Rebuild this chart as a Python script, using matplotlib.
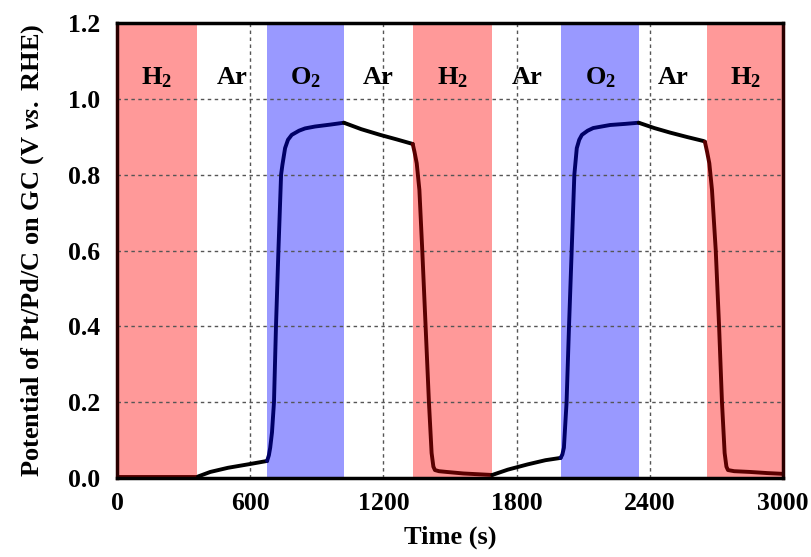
import matplotlib
matplotlib.use("Agg")
import matplotlib.pyplot as plt

plt.rcParams['font.family'] = ['Liberation Serif', 'DejaVu Serif']
plt.rcParams['font.weight'] = 'bold'
plt.rcParams['mathtext.fontset'] = 'custom'
plt.rcParams['mathtext.rm'] = 'Liberation Serif:bold'
plt.rcParams['mathtext.bf'] = 'Liberation Serif:bold'
plt.rcParams['mathtext.it'] = 'Liberation Serif:italic:bold'

# gas periods (s)
gas_names = ["H$_2$", "Ar", "O$_2$", "Ar", "H$_2$", "Ar", "O$_2$", "Ar", "H$_2$"]
gas_starts = [0, 360, 677, 1022, 1334, 1690, 2002, 2350, 2658]
gas_ends = [360, 677, 1022, 1334, 1690, 2002, 2350, 2658, 3000]
gas_colors = {"H$_2$": "#ff9999", "O$_2$": "#9999ff", "Ar": "#ffffff"}

# potential trace, segment by segment
h2_a_t = [0, 100, 200, 300, 365]
h2_a_v = [0.004, 0.004, 0.004, 0.004, 0.004]
ar_a_t = [365, 420, 500, 600, 676]
ar_a_v = [0.004, 0.016, 0.027, 0.037, 0.045]
o2_a_t = [676, 684, 690, 698, 707, 716, 727, 739, 745, 757, 770, 787, 820, 847, 892, 960, 1022]
o2_a_v = [0.045, 0.06, 0.08, 0.12, 0.2, 0.4, 0.6, 0.8, 0.826, 0.87, 0.892, 0.905, 0.916, 0.922, 0.927, 0.932, 0.937]
ar_b_t = [1022, 1100, 1185, 1260, 1332]
ar_b_v = [0.937, 0.92, 0.905, 0.893, 0.881]
h2_b_t = [1332, 1340, 1350, 1362, 1375, 1390, 1405, 1417, 1425, 1432, 1450, 1485, 1560, 1690]
h2_b_v = [0.881, 0.86, 0.83, 0.76, 0.6, 0.4, 0.2, 0.066, 0.03, 0.021, 0.018, 0.016, 0.012, 0.008]
ar_c_t = [1690, 1760, 1850, 1930, 1998]
ar_c_v = [0.008, 0.022, 0.036, 0.047, 0.053]
o2_b_t = [1998, 2006, 2013, 2025, 2036, 2048, 2060, 2071, 2082, 2094, 2120, 2145, 2221, 2290, 2350]
o2_b_v = [0.053, 0.062, 0.08, 0.2, 0.4, 0.6, 0.8, 0.87, 0.892, 0.905, 0.916, 0.923, 0.931, 0.934, 0.937]
ar_d_t = [2350, 2420, 2491, 2570, 2640, 2648]
ar_d_v = [0.937, 0.923, 0.911, 0.899, 0.889, 0.887]
h2_c_t = [2648, 2658, 2668, 2680, 2697, 2712, 2725, 2737, 2745, 2752, 2780, 2851, 2930, 3000]
h2_c_v = [0.887, 0.86, 0.83, 0.76, 0.6, 0.4, 0.2, 0.066, 0.03, 0.021, 0.018, 0.016, 0.013, 0.011]

segments = [
    (h2_a_t, h2_a_v, "#5a0000"),
    (ar_a_t, ar_a_v, "#000000"),
    (o2_a_t, o2_a_v, "#000066"),
    (ar_b_t, ar_b_v, "#000000"),
    (h2_b_t, h2_b_v, "#5a0000"),
    (ar_c_t, ar_c_v, "#000000"),
    (o2_b_t, o2_b_v, "#000066"),
    (ar_d_t, ar_d_v, "#000000"),
    (h2_c_t, h2_c_v, "#5a0000"),
]

x_ticks = [0, 600, 1200, 1800, 2400, 3000]
y_ticks = [0.0, 0.2, 0.4, 0.6, 0.8, 1.0, 1.2]

fig = plt.figure(figsize=(8.11, 5.57), dpi=100)
ax = fig.add_axes([0.1443, 0.1418, 0.8212, 0.8169])

for name, s, e in zip(gas_names, gas_starts, gas_ends):
    ax.axvspan(s, e, color=gas_colors[name], zorder=0.1, lw=0)
    ax.text((s + e) / 2, 1.055, name, ha='center', va='center',
            fontsize=19, fontweight='bold', zorder=3)

for t, v, c in segments:
    ax.plot(t, v, color=c, lw=2.8, solid_joinstyle='round',
            solid_capstyle='round', zorder=4)

ax.set_xlim(0, 3000)
ax.set_ylim(0, 1.2)
ax.set_xticks(x_ticks)
ax.set_yticks(y_ticks)
ax.set_xticklabels([str(x) for x in x_ticks])
ax.set_yticklabels([f"{y:.1f}" for y in y_ticks])
ax.set_axisbelow(True)
ax.grid(True, color='#555555', linestyle=(0, (2.5, 2.5)), linewidth=1.0, zorder=0.5)
ax.tick_params(length=0, labelsize=18.5, pad=12)
ax.tick_params(axis='x', pad=10)
for lab in ax.get_xticklabels() + ax.get_yticklabels():
    lab.set_fontweight('bold')

for side in ['top', 'bottom']:
    ax.spines[side].set_linewidth(2.5)
    ax.spines[side].set_color('black')
for side in ['left', 'right']:
    ax.spines[side].set_linewidth(2.5)
    ax.spines[side].set_color('#2a0000')
for sp in ax.spines.values():
    sp.set_zorder(5)

ax.set_xlabel("Time (s)", fontsize=19, fontweight='bold', labelpad=8)
ax.set_ylabel("Potential of Pt/Pd/C on GC (V $\\mathit{vs.}$ RHE)",
              fontsize=19, fontweight='bold', labelpad=16)

fig.savefig("out.png", dpi=100)
